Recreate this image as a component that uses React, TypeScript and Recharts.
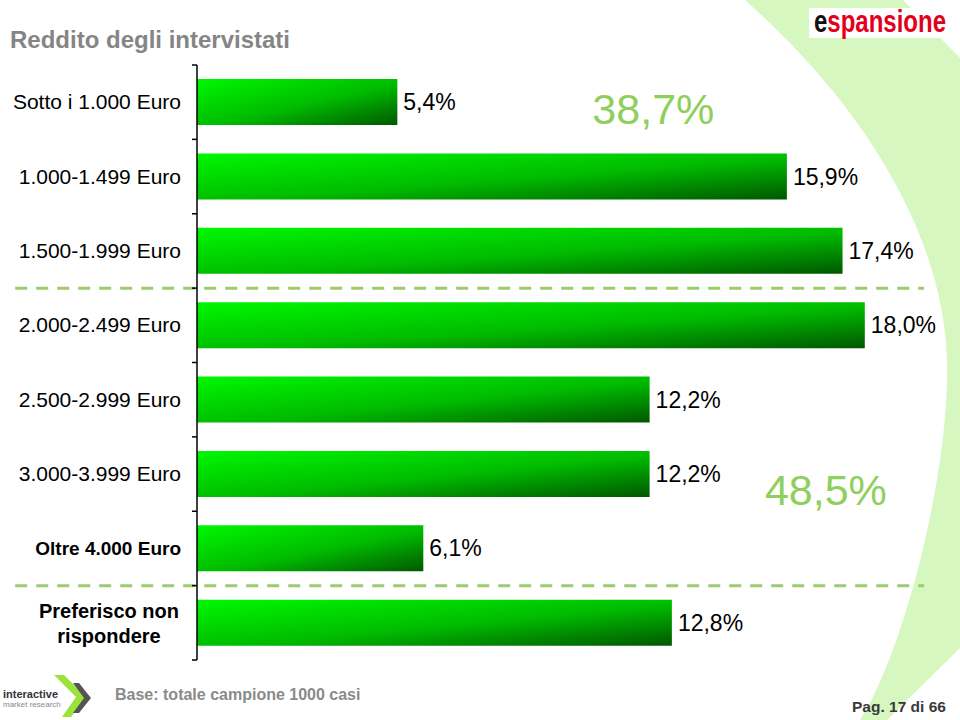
import React from "react"
import {
  BarChart,
  Bar,
  XAxis,
  YAxis,
  LabelList,
  ReferenceLine,
  ReferenceDot,
} from "recharts"

// income brackets, top to bottom
const categories = [
  "Sotto i 1.000 Euro",
  "1.000-1.499 Euro",
  "1.500-1.999 Euro",
  "2.000-2.499 Euro",
  "2.500-2.999 Euro",
  "3.000-3.999 Euro",
  "Oltre 4.000 Euro",
  "Preferisco non\nrispondere",
]
const values = [5.4, 15.9, 17.4, 18.0, 12.2, 12.2, 6.1, 12.8]

// categories where a dashed group separator starts
const groupStarts = ["2.000-2.499 Euro", "Preferisco non\nrispondere"]
// group totals written on the slide
const groupTotals = [38.7, 48.5]

const data = categories.map((name, i) => ({ name, value: values[i] }))

const FONT = "'Liberation Sans', Arial, sans-serif"
const SOFT_GREEN = "#8fcf5c"
const fmt = (v: number) => v.toFixed(1).replace(".", ",") + "%"

const CategoryTick = (props: any) => {
  const { x, y, payload, index } = props
  const half = payload && payload.offset ? payload.offset : 37.2
  const axisX = x + 16
  const lines = String(payload.value).split("\n")
  const last = index === categories.length - 1
  // the last two brackets are set in bold on the slide
  const bold = index >= categories.length - 2
  return (
    <g>
      <line x1={axisX - 5} x2={axisX} y1={y - half} y2={y - half} stroke="#000" strokeWidth={1.5} />
      {last && (
        <line x1={axisX - 5} x2={axisX} y1={y + half} y2={y + half} stroke="#000" strokeWidth={1.5} />
      )}
      {lines.length === 1 ? (
        <text
          x={x}
          y={y}
          dy={7}
          textAnchor="end"
          fontSize={bold ? 19 : 21}
          fontWeight={bold ? "bold" : "normal"}
          fill="#000"
          fontFamily={FONT}
        >
          {lines[0]}
        </text>
      ) : (
        <text
          x={x - 72}
          y={y}
          textAnchor="middle"
          fontSize={20}
          fontWeight="bold"
          fill="#000"
          fontFamily={FONT}
        >
          {lines.map((l, i) => (
            <tspan key={i} x={x - 72} dy={i === 0 ? -5 : 25}>
              {l}
            </tspan>
          ))}
        </text>
      )}
    </g>
  )
}

const bigLabel = (text: string, dy: number) => (props: any) => {
  const vb = props.viewBox || {}
  const cx = (vb.x || 0) + (vb.width || 0) / 2
  const cy = (vb.y || 0) + (vb.height || 0) / 2
  return (
    <text x={cx} y={cy + dy} textAnchor="middle" fontSize={43} fill={SOFT_GREEN} fontFamily={FONT}>
      {text}
    </text>
  )
}

const Backdrop = () => (
  <svg width={960} height={720} style={{ position: "absolute", left: 0, top: 0 }}>
    <path
      d="M745,0 L903,0 L960,58 L960,648 L887,720 L860,720 C900,660 950,480 947,360 C944,250 880,120 745,0 Z"
      fill="#d6f7bf"
    />
    <text x={10} y={48} fontSize={24} fontWeight="bold" fill="#858585" fontFamily={FONT}>
      Reddito degli intervistati
    </text>
    <rect x={809} y={8} width={139} height={30} fill="#fff" />
    <g transform="translate(814,32) scale(0.75,1)">
      <text x={0} y={0} fontSize={32} fontWeight="bold" fontFamily={FONT} fill="#e2001a">
        <tspan fill="#111">e</tspan>spansione
      </text>
    </g>
    <text x={115} y={700} fontSize={16} fontWeight="bold" fill="#8a8a8a" fontFamily={FONT}>
      Base: totale campione 1000 casi
    </text>
    <text x={852} y={712} fontSize={15.5} fontWeight="bold" fill="#3a3a3a" fontFamily={FONT}>
      Pag. 17 di 66
    </text>
    <polygon points="54,675 64,675 86,697 71,717 62,717 76,697" fill="#9be33c" />
    <polygon points="73,683 79,683 91,698 79,713 73,713 84,698" fill="#555" />
    <text x={3} y={698} fontSize={11} fontWeight="bold" fill="#333" fontFamily={FONT}>
      interactive
    </text>
    <text x={3} y={707} fontSize={8} fill="#888" fontFamily={FONT}>
      market research
    </text>
  </svg>
)

export default function App() {
  return (
    <div style={{ position: "absolute", left: 0, top: 0, width: 960, height: 720, background: "#fff" }}>
      <Backdrop />
      <div style={{ position: "absolute", left: 0, top: 0 }}>
        <BarChart
          width={960}
          height={720}
          data={data}
          layout="vertical"
          margin={{ top: 65, right: 21, bottom: 60, left: 0 }}
          style={{ fontFamily: FONT }}
        >
          <defs>
            <linearGradient id="barGreen" x1="0" y1="0" x2="1" y2="1">
              <stop offset="0%" stopColor="#00f800" />
              <stop offset="55%" stopColor="#00bb00" />
              <stop offset="100%" stopColor="#005800" />
            </linearGradient>
          </defs>
          <XAxis type="number" domain={[0, 20]} hide />
          <YAxis
            type="category"
            dataKey="name"
            width={197}
            tickLine={false}
            tickSize={6}
            tickMargin={10}
            axisLine={{ stroke: "#000", strokeWidth: 1.5 }}
            tick={<CategoryTick />}
            interval={0}
          />
          {groupStarts.map((c) => (
            <ReferenceLine
              key={c}
              segment={[
                { x: -4.9, y: c },
                { x: 19.6, y: c },
              ]}
              position="start"
              ifOverflow="visible"
              stroke="#9ccc6c"
              strokeWidth={3}
              strokeDasharray="12 9"
            />
          ))}
          <Bar dataKey="value" fill="url(#barGreen)" barSize={46} isAnimationActive={false}>
            <LabelList
              dataKey="value"
              position="right"
              offset={6}
              formatter={(v: any) => fmt(Number(v))}
              fill="#000"
              fontSize={23}
              fontFamily={FONT}
            />
          </Bar>
          <ReferenceDot
            x={12.3}
            y={categories[0]}
            r={0}
            fill="none"
            stroke="none"
            ifOverflow="visible"
            label={bigLabel(fmt(groupTotals[0]), 22)}
          />
          <ReferenceDot
            x={16.95}
            y={categories[5]}
            r={0}
            fill="none"
            stroke="none"
            ifOverflow="visible"
            label={bigLabel(fmt(groupTotals[1]), 31)}
          />
        </BarChart>
      </div>
    </div>
  )
}
